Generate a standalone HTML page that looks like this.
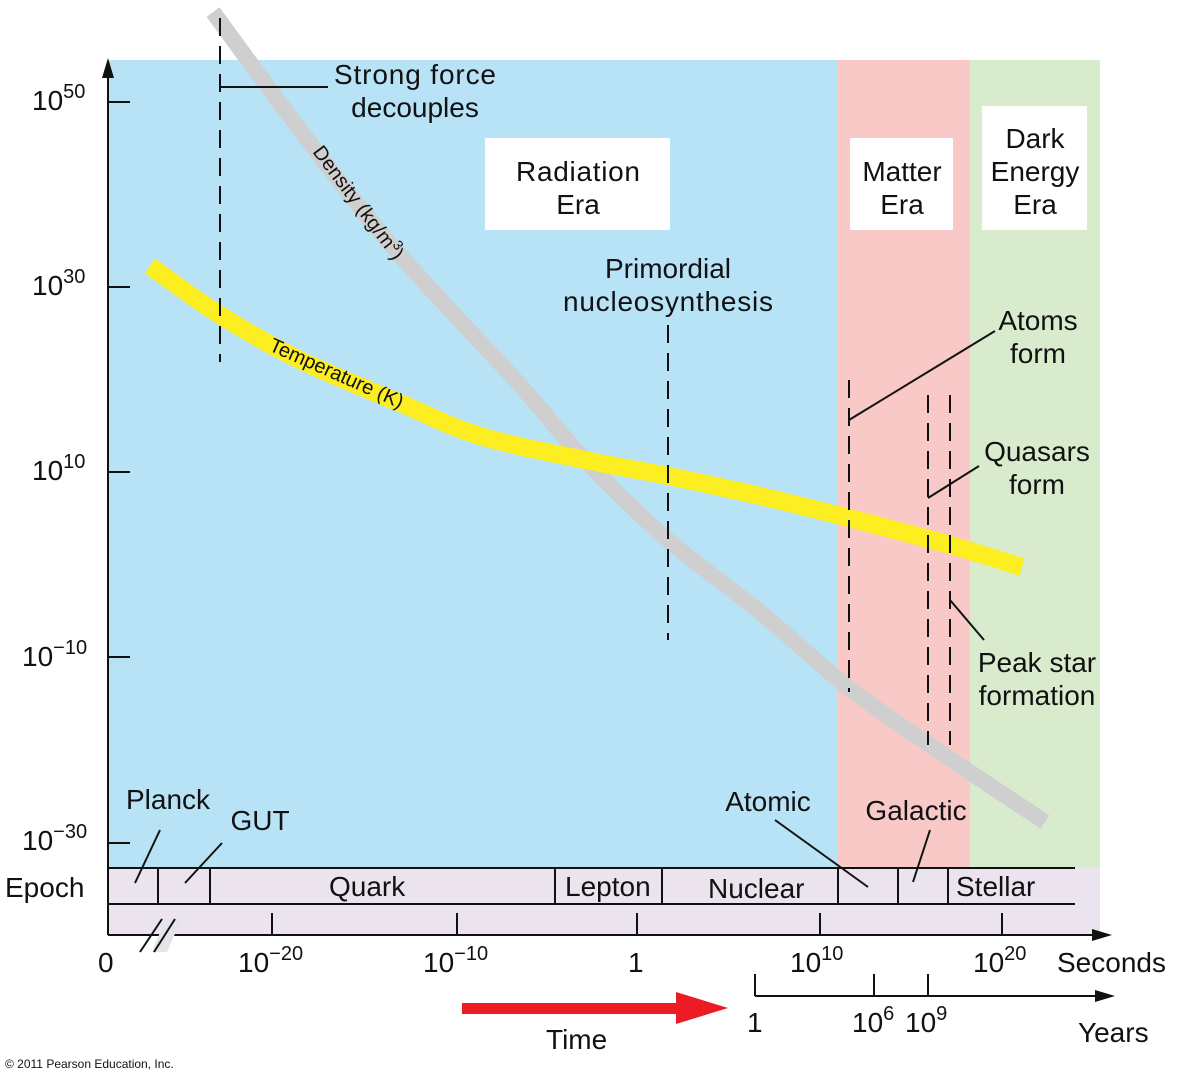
<!DOCTYPE html>
<html><head><meta charset="utf-8"><style>
html,body{margin:0;padding:0;background:#fff}
svg{display:block}
text{font-family:"Liberation Sans",Arial,sans-serif;fill:#111}
</style></head><body>
<svg width="1179" height="1080" viewBox="0 0 1179 1080">
<rect x="108" y="60" width="730" height="808" fill="#b8e3f7"/>
<rect x="838" y="60" width="132" height="808" fill="#f9c9c7"/>
<rect x="970" y="60" width="130" height="808" fill="#d9ebcd"/>
<rect x="108" y="868" width="992" height="67" fill="#ebe3ed"/>
<rect x="485" y="138" width="185" height="92" fill="#fff"/>
<rect x="850" y="138" width="103" height="92" fill="#fff"/>
<rect x="982" y="106" width="105" height="124" fill="#fff"/>
<g font-size="28" text-anchor="middle">
<text x="578" y="181" textLength="124">Radiation</text><text x="578" y="214">Era</text>
<text x="902" y="181">Matter</text><text x="902" y="214">Era</text>
<text x="1035" y="148">Dark</text><text x="1035" y="181">Energy</text><text x="1035" y="214">Era</text>
</g>
<path id="dens" fill="none" stroke="#cfcfcf" stroke-width="16" stroke-linecap="butt"/>
<path id="temp" fill="none" stroke="#fcee21" stroke-width="18" stroke-linecap="butt"/>
<text font-size="20" transform="translate(312,152) rotate(53)">Density (kg/m<tspan font-size="14" dy="-8">3</tspan><tspan dy="8">)</tspan></text>
<text font-size="20" transform="translate(268,350) rotate(24)">Temperature (K)</text>
<g stroke="#111" stroke-width="2" stroke-dasharray="18,10" fill="none">
<line x1="220" y1="18" x2="220" y2="362"/>
<line x1="668" y1="325" x2="668" y2="640"/>
<line x1="849" y1="380" x2="849" y2="692"/>
<line x1="928" y1="395" x2="928" y2="745"/>
<line x1="950" y1="395" x2="950" y2="745"/>
</g>
<g stroke="#111" stroke-width="2" fill="none">
<line x1="220" y1="87" x2="328" y2="87"/>
<line x1="849" y1="420" x2="995" y2="331"/>
<line x1="928" y1="498" x2="979" y2="466"/>
<line x1="950" y1="600" x2="984" y2="640"/>
<line x1="135" y1="883" x2="160" y2="830"/>
<line x1="185" y1="883" x2="222" y2="843"/>
<line x1="775" y1="820" x2="868" y2="887"/>
<line x1="930" y1="830" x2="913" y2="882"/>
</g>
<g font-size="28" text-anchor="middle">
<text x="415" y="84" textLength="162">Strong force</text><text x="415" y="117">decouples</text>
<text x="668" y="278">Primordial</text><text x="668" y="311" textLength="210">nucleosynthesis</text>
<text x="1038" y="330">Atoms</text><text x="1038" y="363">form</text>
<text x="1037" y="461">Quasars</text><text x="1037" y="494">form</text>
<text x="1037" y="672">Peak star</text><text x="1037" y="705">formation</text>
<text x="168" y="809">Planck</text>
<text x="260" y="830">GUT</text>
<text x="768" y="811">Atomic</text>
<text x="916" y="820">Galactic</text>
</g>
<g stroke="#111" stroke-width="2" fill="none">
<line x1="108" y1="935" x2="108" y2="72"/>
<line x1="108" y1="935" x2="1092" y2="935"/>
<line x1="108" y1="868" x2="1075" y2="868"/>
<line x1="108" y1="904" x2="1075" y2="904"/>
<line x1="108" y1="102" x2="130" y2="102"/>
<line x1="108" y1="287" x2="130" y2="287"/>
<line x1="108" y1="472" x2="130" y2="472"/>
<line x1="108" y1="657" x2="130" y2="657"/>
<line x1="108" y1="843" x2="130" y2="843"/>
<line x1="158" y1="868" x2="158" y2="904"/>
<line x1="210" y1="868" x2="210" y2="904"/>
<line x1="555" y1="868" x2="555" y2="904"/>
<line x1="662" y1="868" x2="662" y2="904"/>
<line x1="838" y1="868" x2="838" y2="904"/>
<line x1="898" y1="868" x2="898" y2="904"/>
<line x1="948" y1="868" x2="948" y2="904"/>
<line x1="272" y1="913" x2="272" y2="935"/>
<line x1="457" y1="913" x2="457" y2="935"/>
<line x1="637" y1="913" x2="637" y2="935"/>
<line x1="820" y1="913" x2="820" y2="935"/>
<line x1="1002" y1="913" x2="1002" y2="935"/>
<line x1="755" y1="996" x2="1095" y2="996"/>
<line x1="755" y1="974" x2="755" y2="996"/>
<line x1="874" y1="974" x2="874" y2="996"/>
<line x1="928" y1="974" x2="928" y2="996"/>
</g>
<polygon points="152,952 167,952 181,920 165,920" fill="#e4e4ea"/>
<g stroke="#111" stroke-width="2"><line x1="140" y1="952" x2="162" y2="919"/><line x1="154" y1="952" x2="175" y2="919"/></g>
<polygon points="108,58 102,78 114,78" fill="#111"/>
<polygon points="1112,935 1092,929 1092,941" fill="#111"/>
<polygon points="1115,996 1095,990 1095,1002" fill="#111"/>
<rect x="462" y="1003" width="220" height="11" fill="#ed1c24"/>
<polygon points="728,1008 676,992 676,1024" fill="#ed1c24"/>
<g font-size="28">
<text x="32" y="110">10<tspan font-size="20" dy="-12">50</tspan></text>
<text x="32" y="295">10<tspan font-size="20" dy="-12">30</tspan></text>
<text x="32" y="480">10<tspan font-size="20" dy="-12">10</tspan></text>
<text x="22" y="666">10<tspan font-size="20" dy="-12">−10</tspan></text>
<text x="22" y="850">10<tspan font-size="20" dy="-12">−30</tspan></text>
<text x="5" y="897">Epoch</text>
<text x="329" y="896">Quark</text>
<text x="565" y="896">Lepton</text>
<text x="708" y="898">Nuclear</text>
<text x="956" y="896">Stellar</text>
<text x="98" y="972">0</text>
<text x="238" y="972">10<tspan font-size="20" dy="-12">−20</tspan></text>
<text x="423" y="972">10<tspan font-size="20" dy="-12">−10</tspan></text>
<text x="628" y="972">1</text>
<text x="790" y="972">10<tspan font-size="20" dy="-12">10</tspan></text>
<text x="973" y="972">10<tspan font-size="20" dy="-12">20</tspan></text>
<text x="1057" y="972">Seconds</text>
<text x="747" y="1032">1</text>
<text x="852" y="1032">10<tspan font-size="20" dy="-12">6</tspan></text>
<text x="905" y="1032">10<tspan font-size="20" dy="-12">9</tspan></text>
<text x="1078" y="1042">Years</text>
<text x="546" y="1049">Time</text>
</g>
<text x="5" y="1068" font-size="12">© 2011 Pearson Education, Inc.</text>
</svg>
<script>
function cr(p){var d="M"+p[0][0]+","+p[0][1];for(var i=0;i<p.length-1;i++){var a=p[i-1]||p[i],b=p[i],c=p[i+1],e=p[i+2]||c;
d+=" C"+(b[0]+(c[0]-a[0])/6)+","+(b[1]+(c[1]-a[1])/6)+" "+(c[0]-(e[0]-b[0])/6)+","+(c[1]-(e[1]-b[1])/6)+" "+c[0]+","+c[1];}return d;}
document.getElementById("dens").setAttribute("d",cr([[213,12],[300,130],[380,232],[450,310],[520,385],[585,460],[668,540],[760,612],[849,688],[940,752],[1045,822]]));
document.getElementById("temp").setAttribute("d",cr([[150,266],[220,315],[300,360],[400,403],[480,436],[585,460],[668,476],[760,496],[849,518],[950,545],[1022,567]]));
</script>
</body></html>
